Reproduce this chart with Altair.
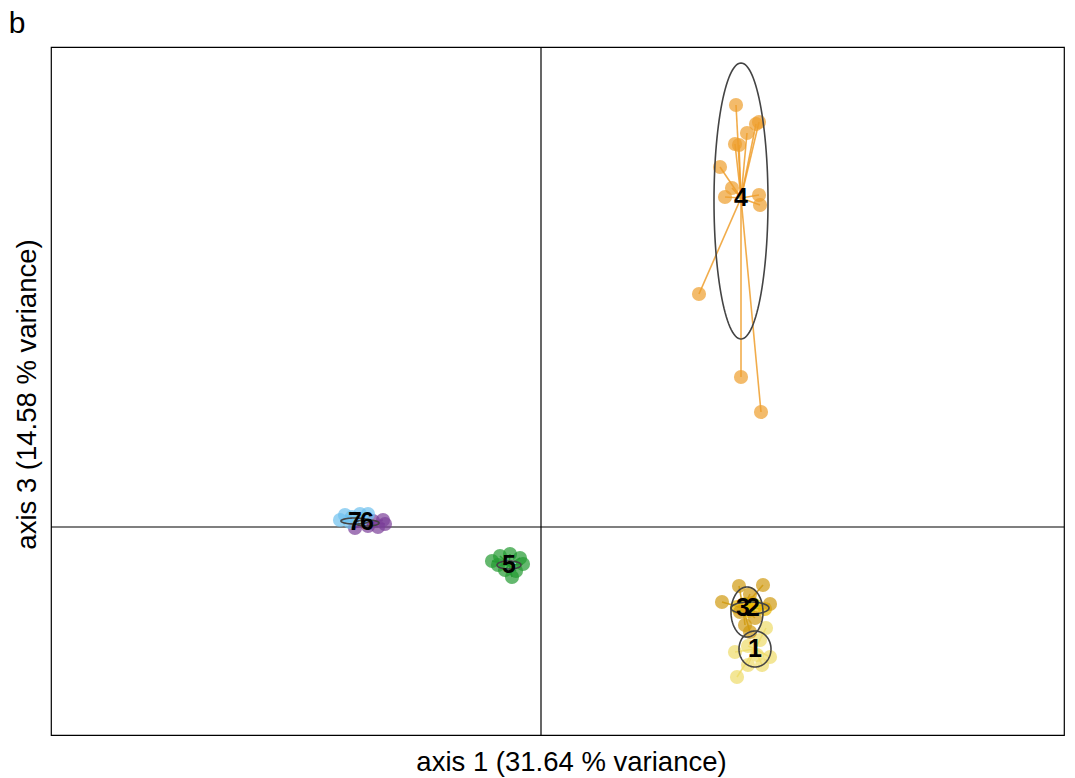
import numpy as np
import pandas as pd
import altair as alt

# ---------------- data (DAPC scores, axis 1 vs axis 3) ----------------
clusters = ["1", "2", "3", "4", "5", "6", "7"]
colors = ["#EEDC6A", "#E8B800", "#D09A10", "#EE9E2C", "#229A30", "#7B3F99", "#6EC0EE"]

pts_1_x = [1.96, 2.07, 1.94, 2.29, 2.25, 2.21, 2.07, 2.16, 2.19]
pts_1_y = [-1.50, -1.38, -1.25, -1.30, -1.01, -1.38, -1.19, -1.28, -1.13]
pts_2_x = [1.96, 2.04, 2.15, 2.24, 2.07, 2.11]
pts_2_y = [-0.80, -0.77, -0.79, -0.82, -0.84, -0.76]
pts_3_x = [1.98, 2.22, 1.81, 2.29, 2.09, 2.04, 2.09, 2.14, 1.99]
pts_3_y = [-0.59, -0.58, -0.75, -0.77, -0.67, -0.98, -1.05, -0.91, -0.85]
pts_4_x = [1.95, 2.18, 2.15, 2.06, 1.94, 1.98, 1.79, 1.91, 1.84, 2.18, 2.19, 1.58, 2.00, 2.20]
pts_4_y = [4.22, 4.05, 4.03, 3.94, 3.83, 3.82, 3.60, 3.39, 3.30, 3.32, 3.22, 2.33, 1.50, 1.15]
pts_5_x = [-0.49, -0.41, -0.31, -0.21, -0.18, -0.25, -0.29, -0.43, -0.36]
pts_5_y = [-0.34, -0.29, -0.27, -0.31, -0.37, -0.44, -0.50, -0.38, -0.43]
pts_6_x = [-1.58, -1.63, -1.86, -1.73, -1.56, -1.68]
pts_6_y = [0.07, 0.00, -0.01, 0.01, 0.03, 0.06]
pts_7_x = [-1.96, -1.89, -1.81, -1.73, -2.01, -1.91, -1.79]
pts_7_y = [0.12, 0.10, 0.13, 0.13, 0.07, 0.05, 0.08]

# group centroids and ellipse half-axes
cent_x = [2.14, 2.12, 2.02, 2.00, -0.32, -1.74, -1.86]
cent_y = [-1.22, -0.81, -0.81, 3.29, -0.38, 0.05, 0.05]
ell_x = [2.14, 2.09, 2.06, 2.00, -0.32, -1.74, -1.86]
ell_y = [-1.22, -0.81, -0.85, 3.26, -0.38, 0.04, 0.06]
ell_sx = [0.16, 0.19, 0.16, 0.27, 0.12, 0.12, 0.14]
ell_sy = [0.18, 0.06, 0.25, 1.38, 0.04, 0.03, 0.03]

x_title = "axis 1 (31.64 % variance)"
y_title = "axis 3 (14.58 % variance)"
panel_tag = "b"

# ---------------- tables ----------------
all_x = [pts_1_x, pts_2_x, pts_3_x, pts_4_x, pts_5_x, pts_6_x, pts_7_x]
all_y = [pts_1_y, pts_2_y, pts_3_y, pts_4_y, pts_5_y, pts_6_y, pts_7_y]
rows = []
for i, c in enumerate(clusters):
    for xv, yv in zip(all_x[i], all_y[i]):
        rows.append({"cluster": c, "x": xv, "y": yv, "cx": cent_x[i], "cy": cent_y[i]})
pts = pd.DataFrame(rows)

erows = []
t = np.linspace(0, 2 * np.pi, 121)
for i, c in enumerate(clusters):
    for k, tt in enumerate(t):
        erows.append({"cluster": c, "k": k,
                      "x": ell_x[i] + ell_sx[i] * np.cos(tt),
                      "y": ell_y[i] + ell_sy[i] * np.sin(tt)})
ell = pd.DataFrame(erows)

labs = pd.DataFrame({"cluster": clusters, "x": cent_x, "y": cent_y})

FONT = "Liberation Sans"
xs = alt.Scale(domain=[-4.90, 5.23], nice=False, zero=False)
ys = alt.Scale(domain=[-2.08, 4.80], nice=False, zero=False)
xax = alt.Axis(title=x_title, labels=False, ticks=False, domain=False, grid=False,
               titleFontSize=27.5, titleFont=FONT, titleFontWeight="normal",
               titleColor="black", titlePadding=13, titleX=520)
yax = alt.Axis(title=y_title, labels=False, ticks=False, domain=False, grid=False,
               titleFontSize=27.5, titleFont=FONT, titleFontWeight="normal",
               titleColor="black", titlePadding=10, titleY=347)
cscale = alt.Scale(domain=clusters, range=colors)

base_x = alt.X("x:Q", scale=xs, axis=xax)
base_y = alt.Y("y:Q", scale=ys, axis=yax)

zero_v = alt.Chart(pd.DataFrame({"x": [0.0]})).mark_rule(color="black", strokeWidth=1.2).encode(
    x=alt.X("x:Q", scale=xs, axis=xax))
zero_h = alt.Chart(pd.DataFrame({"y": [0.0]})).mark_rule(color="black", strokeWidth=1.2).encode(
    y=alt.Y("y:Q", scale=ys, axis=yax))

segs = alt.Chart(pts).mark_rule(strokeWidth=1.6, opacity=0.85).encode(
    x=base_x, y=base_y, x2="cx:Q", y2="cy:Q",
    color=alt.Color("cluster:N", scale=cscale, legend=None))

dots = alt.Chart(pts).mark_circle(size=200, opacity=0.7).encode(
    x=base_x, y=base_y,
    color=alt.Color("cluster:N", scale=cscale, legend=None))

ellipses = alt.Chart(ell).mark_line(color="#444444", strokeWidth=1.6).encode(
    x=base_x, y=base_y, detail="cluster:N", order="k:Q")

labels = alt.Chart(labs).mark_text(font=FONT, fontSize=25, fontWeight="bold",
                                   color="black", baseline="middle", align="center").encode(
    x=base_x, y=base_y, text="cluster:N")

tag = alt.Chart(pd.DataFrame({"t": [panel_tag]})).mark_text(
    font=FONT, fontSize=30, color="black", align="center", baseline="alphabetic").encode(
    x=alt.value(-34), y=alt.value(-14), text="t:N")

chart = alt.layer(zero_v, zero_h, segs, dots, ellipses, labels, tag).properties(
    width=1013, height=688,
    padding={"left": 43, "top": 39, "right": 3, "bottom": 50},
    autosize=alt.AutoSizeParams(type="none"),
).configure_view(stroke="black", strokeWidth=1.2)

chart.save("out.html", embed_options={"renderer": "svg", "actions": False})
